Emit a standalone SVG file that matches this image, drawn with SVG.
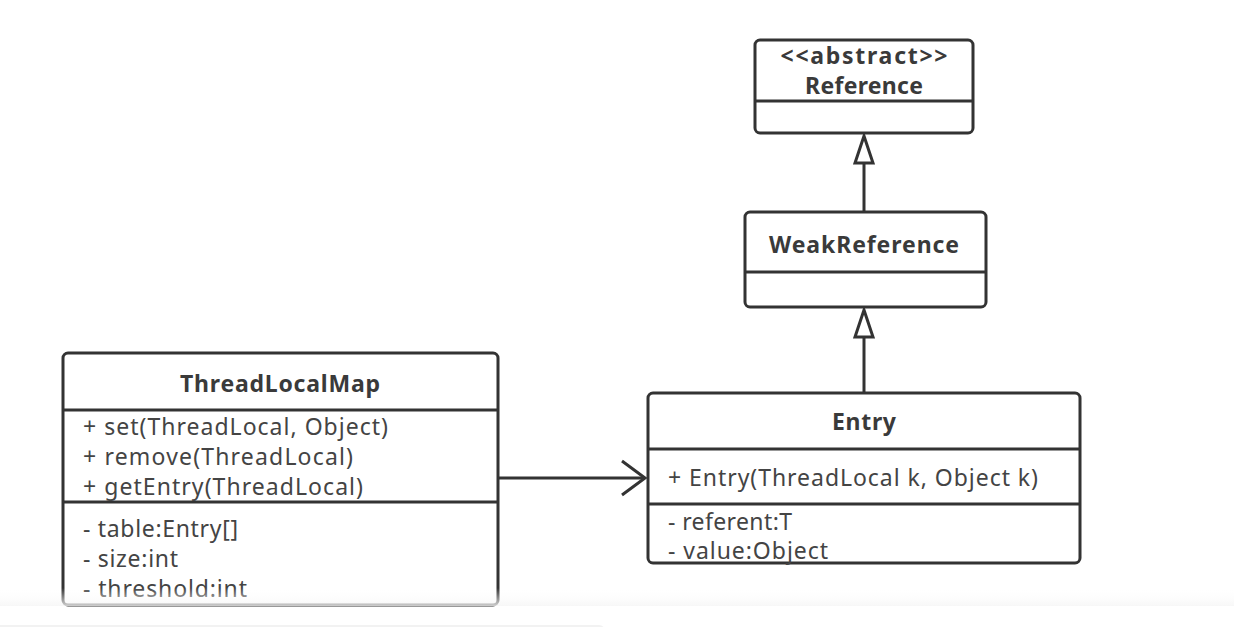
<svg xmlns="http://www.w3.org/2000/svg" width="1234" height="627" viewBox="0 0 1234 627">
<style>
.box{fill:#fff;stroke:#333;stroke-width:3}
.div{stroke:#333;stroke-width:3}
.t{font-family:"Noto Sans","Open Sans",sans-serif;font-size:23px;fill:#444}
.b{font-family:"Noto Sans","Open Sans",sans-serif;font-size:23px;font-weight:bold;fill:#3a3a3a;text-anchor:middle}
.edge{stroke:#333;stroke-width:3;fill:none}
</style>
<defs>
<linearGradient id="band" x1="0" y1="0" x2="0" y2="1">
<stop offset="0" stop-color="#ffffff" stop-opacity="0"/>
<stop offset="1" stop-color="#f5f5f5" stop-opacity="0.8"/>
</linearGradient>
</defs>
<rect width="1234" height="627" fill="#fff"/>

<g id="connectors">
<path class="edge" d="M864,163 L864,212"/>
<path d="M864,136 L873,163 L855,163 Z" fill="#fff" stroke="#333" stroke-width="3"/>
<path class="edge" d="M864,337 L864,393"/>
<path d="M864,310 L873,337 L855,337 Z" fill="#fff" stroke="#333" stroke-width="3"/>
<path class="edge" d="M498,478 L644,478"/>
<path class="edge" d="M622,461 L645,478 L622,495"/>
</g>

<g id="reference">
<rect class="box" x="755" y="40" width="218" height="93" rx="5"/>
<line class="div" x1="755" y1="101" x2="973" y2="101"/>
<text class="b" x="864" y="64" textLength="167">&lt;&lt;abstract&gt;&gt;</text>
<text class="b" x="864" y="94" textLength="118">Reference</text>
</g>

<g id="weakreference">
<rect class="box" x="745" y="212" width="241" height="95" rx="5"/>
<line class="div" x1="745" y1="272" x2="986" y2="272"/>
<text class="b" x="864" y="253" textLength="190">WeakReference</text>
</g>

<g id="entry">
<rect class="box" x="648" y="393" width="432" height="170" rx="5"/>
<line class="div" x1="648" y1="449" x2="1080" y2="449"/>
<line class="div" x1="648" y1="504" x2="1080" y2="504"/>
<text class="b" x="864" y="430" textLength="64">Entry</text>
<text class="t" x="668" y="486" textLength="370">+ Entry(ThreadLocal k, Object k)</text>
<text class="t" x="668" y="530" textLength="124">- referent:T</text>
<text class="t" x="668" y="559" textLength="160">- value:Object</text>
</g>

<g id="threadlocalmap">
<rect class="box" x="63" y="353" width="435" height="252" rx="5"/>
<line class="div" x1="63" y1="410" x2="498" y2="410"/>
<line class="div" x1="63" y1="502" x2="498" y2="502"/>
<text class="b" x="280" y="392" textLength="200">ThreadLocalMap</text>
<text class="t" x="83" y="435" textLength="305">+ set(ThreadLocal, Object)</text>
<text class="t" x="83" y="465" textLength="270">+ remove(ThreadLocal)</text>
<text class="t" x="83" y="495" textLength="280">+ getEntry(ThreadLocal)</text>
<text class="t" x="83" y="537" textLength="155">- table:Entry[]</text>
<text class="t" x="83" y="567" textLength="95">- size:int</text>
<text class="t" x="83" y="597" textLength="164">- threshold:int</text>
</g>

<rect x="0" y="588" width="1234" height="18" fill="url(#band)"/>
<rect x="-10" y="625" width="615" height="20" rx="6" fill="#f2f2f2"/>
</svg>
